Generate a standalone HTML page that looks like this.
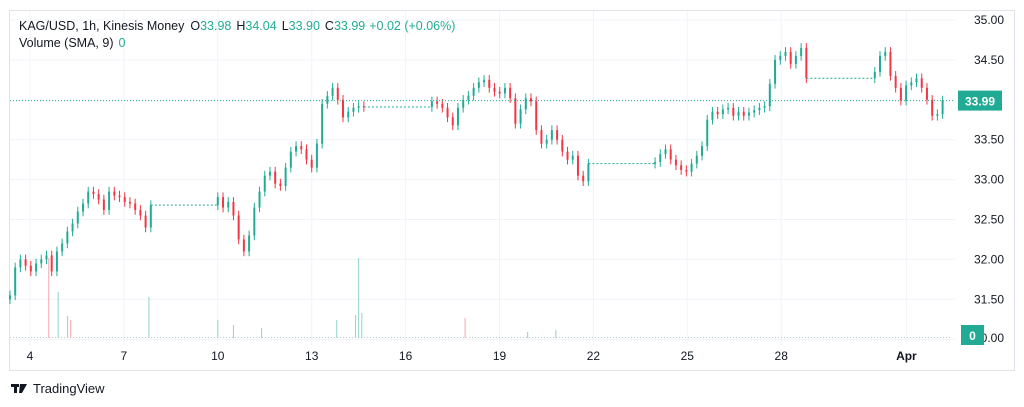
<!DOCTYPE html>
<html><head><meta charset="utf-8"><style>
body{margin:0;background:#fff;width:1024px;height:407px;overflow:hidden;font-family:"Liberation Sans",sans-serif;}
svg{position:absolute;left:0;top:0}
</style></head><body>
<svg id="chart" width="1024" height="407" xmlns="http://www.w3.org/2000/svg">
<rect x="9.5" y="10.5" width="1005" height="360" fill="#fff" stroke="#e0e3eb"/>
<g id="grid"></g><g id="marks"></g><g id="axes"></g>
<text x="19" y="30" font-size="12.5" fill="#131722">KAG/USD, 1h, Kinesis Money<tspan dx="6">O</tspan><tspan fill="#22ab94">33.98</tspan><tspan dx="5">H</tspan><tspan fill="#22ab94">34.04</tspan><tspan dx="5">L</tspan><tspan fill="#22ab94">33.90</tspan><tspan dx="5">C</tspan><tspan fill="#22ab94">33.99</tspan><tspan dx="4" fill="#22ab94">+0.02 (+0.06%)</tspan></text>
<text x="19" y="47" font-size="12.5" fill="#131722">Volume (SMA, 9)<tspan dx="5" fill="#22ab94">0</tspan></text>
<g><rect x="11" y="384" width="8" height="3" fill="#131722"/><rect x="14" y="384" width="3" height="9" fill="#131722"/><polygon points="20,384 27,384 22,393 19,393" fill="#131722"/><text x="33" y="393" font-size="13" fill="#131722">TradingView</text></g>
</svg>
<script>
const segStartDays=[3.36,10.0,16.84,23.97,30.99];
const seg1=[31.55,31.9,32.0,31.92,31.85,31.95,32.0,32.05,31.85,32.1,32.2,32.35,32.45,32.6,32.7,32.85,32.82,32.75,32.62,32.85,32.8,32.78,32.72,32.7,32.62,32.55,32.4,32.68];
const seg2=[32.78,32.65,32.72,32.55,32.25,32.1,32.3,32.65,32.85,33.05,33.1,32.95,32.92,33.15,33.35,33.42,33.38,33.25,33.15,33.45,33.95,34.05,34.15,34.0,33.78,33.85,33.9,33.92,33.91];
const seg3=[33.98,33.95,33.9,33.78,33.68,33.9,34.0,34.05,34.15,34.22,34.25,34.15,34.1,34.08,34.15,34.02,33.7,33.88,34.02,33.98,33.62,33.45,33.5,33.62,33.5,33.35,33.25,33.3,33.05,32.98,33.2];
const seg4=[33.22,33.32,33.38,33.25,33.18,33.12,33.1,33.2,33.3,33.42,33.75,33.85,33.82,33.88,33.9,33.8,33.85,33.8,33.84,33.87,33.9,33.92,34.2,34.5,34.55,34.6,34.45,34.55,34.65,34.27];
const seg5=[34.35,34.55,34.6,34.3,34.15,33.99,34.18,34.22,34.27,34.15,34.0,33.8,33.82,33.99];
const segments=[seg1,seg2,seg3,seg4,seg5];
const volDays=[4.6,4.9,5.2,5.3,7.8,10.0,10.5,11.4,13.8,14.4,14.5,14.6,17.9,19.9,20.8];
const volValues=[80,46,22,18,41,18,13,10,18,23,80,25,20,6,8];
const priceTicks=[35.0,34.5,33.5,33.0,32.5,32.0,31.5];
const dayTicks=[4,7,10,13,16,19,22,25,28,32];
const dayLabels=["4","7","10","13","16","19","22","25","28","Apr"];
const lastPrice=33.99;
const step=1/6;
const NS="http://www.w3.org/2000/svg";
function xs(d){return 30+(d-4)*31.3;}
function ys(p){return 20+(35-p)*79.8;}
function vy(v){return 338-v;}
function el(tag,attrs,parent){const e=document.createElementNS(NS,tag);for(const k in attrs)e.setAttribute(k,attrs[k]);parent.appendChild(e);return e;}
const grid=document.getElementById('grid'),marks=document.getElementById('marks'),axes=document.getElementById('axes');
priceTicks.concat([31.0]).forEach(p=>{const l=el('line',{x1:10,x2:955,y1:ys(p),y2:ys(p),stroke:'#f0f3fa'},grid);});
dayTicks.forEach(d=>{const l=el('line',{x1:xs(d),x2:xs(d),y1:11,y2:345,stroke:'#f0f3fa'},grid);});
const vbl=el('line',{x1:10,x2:950,y1:337.5,y2:337.5,stroke:'#b8ccc9','stroke-dasharray':'1,2'},marks);

let prev=null;
segments.forEach((seg,si)=>{
  const sd=segStartDays[si];
  seg.forEach((c,i)=>{
    const d=sd+i*step;const o=prev===null?c-0.05:prev;
    const up=c>=o;const col=up?'#22ab94':'#f23645';
    const hi=Math.max(o,c)+0.06,lo=Math.min(o,c)-0.06;
    const x=xs(d);
    const w=el('line',{x1:x,x2:x,y1:ys(hi),y2:ys(lo),stroke:col,'stroke-width':1},marks);
    
    const b=el('rect',{x:x-1,y:ys(Math.max(o,c)),width:2,height:Math.max(1,Math.abs(ys(o)-ys(c))),fill:col},marks);
    
    prev=c;
  });
  if(si<segments.length-1){
    const endD=sd+(seg.length-1)*step;
    const g=el('line',{x1:xs(endD),x2:xs(segStartDays[si+1]),y1:ys(seg[seg.length-1]),y2:ys(seg[seg.length-1]),stroke:'#22ab94','stroke-dasharray':'2,2'},marks);
    
  }
});
volDays.forEach((d,i)=>{
  const r=el('rect',{x:xs(d)-0.5,y:vy(volValues[i]),width:1,height:volValues[i],fill:i%3==0?'#f5a6ad':'#8fd3ca'},marks);
  
});
const pl=el('line',{x1:10,x2:955,y1:ys(lastPrice),y2:ys(lastPrice),stroke:'#22ab94','stroke-dasharray':'1,2'},marks);

priceTicks.forEach(p=>{const t=el('text',{x:1004,y:ys(p)+4,'font-size':12,fill:'#131722','text-anchor':'end'},axes);t.textContent=p.toFixed(2);});
const z=el('text',{x:1004,y:342,'font-size':12,fill:'#131722','text-anchor':'end'},axes);z.textContent='0.00';

const pb=el('rect',{x:958,y:ys(lastPrice)-10,width:44,height:20,fill:'#22ab94'},axes);

const pt=el('text',{x:980,y:ys(lastPrice)+5,'font-size':12,fill:'#fff','text-anchor':'middle','font-weight':'bold'},axes);pt.textContent=lastPrice.toFixed(2);

const vb=el('rect',{x:961,y:325,width:23,height:20,fill:'#22ab94'},axes);

const vt=el('text',{x:972.5,y:340,'font-size':12,fill:'#fff','text-anchor':'middle','font-weight':'bold'},axes);vt.textContent='0';

dayTicks.forEach((d,i)=>{const t=el('text',{x:xs(d),y:360,'font-size':12,fill:'#131722','text-anchor':'middle','font-weight':dayLabels[i]=='Apr'?'bold':'normal'},axes);t.textContent=dayLabels[i];});
</script>
</body></html>
